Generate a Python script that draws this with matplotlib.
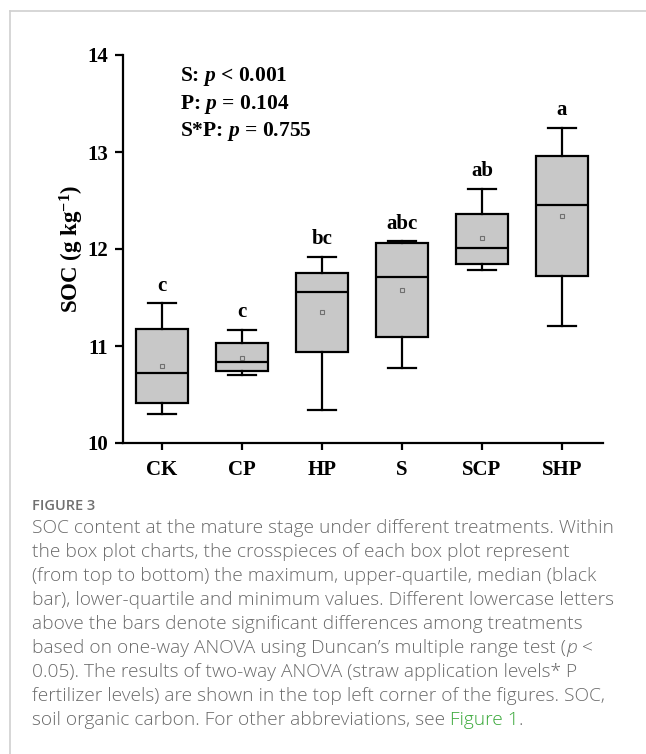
import matplotlib
matplotlib.use("Agg")
import matplotlib.pyplot as plt
from matplotlib.lines import Line2D

# ---------------- data ----------------
categories = ["CK", "CP", "HP", "S", "SCP", "SHP"]
whisker_low = [10.30, 10.70, 10.34, 10.77, 11.78, 11.21]
q1 = [10.41, 10.74, 10.94, 11.09, 11.85, 11.72]
median = [10.72, 10.83, 11.56, 11.71, 12.01, 12.45]
q3 = [11.18, 11.03, 11.75, 12.06, 12.36, 12.96]
whisker_high = [11.44, 11.17, 11.92, 12.08, 12.62, 13.25]
means = [10.79, 10.88, 11.35, 11.58, 12.11, 12.34]
letters = ["c", "c", "bc", "abc", "ab", "a"]
anova_lines = [r"S: $\mathit{p}$ < 0.001", r"P: $\mathit{p}$ = 0.104", r"S*P: $\mathit{p}$ = 0.755"]
y_ticks = [10, 11, 12, 13, 14]

caption_title = "FIGURE 3"
caption_lines = [
    [("SOC content at the mature stage under different treatments. Within", "n")],
    [("the box plot charts, the crosspieces of each box plot represent", "n")],
    [("(from top to bottom) the maximum, upper-quartile, median (black", "n")],
    [("bar), lower-quartile and minimum values. Different lowercase letters", "n")],
    [("above the bars denote significant differences among treatments", "n")],
    [("based on one-way ANOVA using Duncan\u2019s multiple range test (", "n"), ("p", "i"), (" <", "n")],
    [("0.05). The results of two-way ANOVA (straw application levels* P", "n")],
    [("fertilizer levels) are shown in the top left corner of the figures. SOC,", "n")],
    [("soil organic carbon. For other abbreviations, see ", "n"), ("Figure 1", "g"), (".", "n")],
]

# ---------------- style ----------------
plt.rcParams["mathtext.fontset"] = "custom"
plt.rcParams["mathtext.rm"] = "Liberation Serif:bold"
plt.rcParams["mathtext.bf"] = "Liberation Serif:bold"
plt.rcParams["mathtext.it"] = "Liberation Serif:italic:bold"
plt.rcParams["mathtext.default"] = "rm"

W, H = 646, 754
fig = plt.figure(figsize=(W / 100, H / 100), dpi=100)
fig.patch.set_facecolor("white")

ax = fig.add_axes([123 / W, (H - 443) / H, (603 - 123) / W, (443 - 55) / H])

stats = []
for i, c in enumerate(categories):
    stats.append(dict(label=c, med=median[i], q1=q1[i], q3=q3[i],
                      whislo=whisker_low[i], whishi=whisker_high[i],
                      mean=means[i], fliers=[]))

positions = list(range(len(categories)))
lw = 1.6
ax.bxp(stats, positions=positions, widths=0.64, capwidths=0.34,
       patch_artist=True, showmeans=True, showfliers=False,
       boxprops=dict(facecolor="#c8c8c8", edgecolor="black", linewidth=lw),
       medianprops=dict(color="black", linewidth=lw),
       whiskerprops=dict(color="black", linewidth=lw),
       capprops=dict(color="black", linewidth=lw),
       meanprops=dict(marker="s", markerfacecolor="#c8c8c8",
                      markeredgecolor="#707070", markersize=3.5,
                      markeredgewidth=0.8))

serif = "Liberation Serif"
for i, l in enumerate(letters):
    ax.text(positions[i], whisker_high[i] + 0.13, l, ha="center", va="baseline",
            fontsize=15, fontweight="bold", family=serif)

for k, line in enumerate(anova_lines):
    ax.text(0.225, 13.73 - 0.285 * k, line, ha="left", va="baseline",
            fontsize=15.5, fontweight="bold", family=serif)

ax.set_xlim(-0.4875, 5.5125)
ax.set_ylim(10, 14)
ax.set_yticks(y_ticks)
ax.set_xticks(positions)
ax.set_xticklabels(categories)
for lab in ax.get_xticklabels() + ax.get_yticklabels():
    lab.set_fontfamily(serif)
    lab.set_fontweight("bold")
    lab.set_fontsize(15)
ax.tick_params(axis="y", direction="out", length=6, width=lw, pad=4.5)
ax.tick_params(axis="x", direction="out", length=5, width=lw, pad=7)
ax.spines["top"].set_visible(False)
ax.spines["right"].set_visible(False)
ax.spines["left"].set_linewidth(lw)
ax.spines["bottom"].set_linewidth(lw)
ax.set_ylabel(r"SOC (g kg$^{-1}$)", fontsize=16.5, fontweight="bold",
              family=serif, labelpad=1)

# frame lines of the page
fig.add_artist(Line2D([10 / W, 1], [1 - 11 / H, 1 - 11 / H], transform=fig.transFigure,
                      color="#d0d0d0", linewidth=1.2))
fig.add_artist(Line2D([10 / W, 10 / W], [0, 1 - 11 / H], transform=fig.transFigure,
                      color="#d0d0d0", linewidth=1.2))

# caption
cap_font = "Open Sans"
cap_color = "#6a6a6a"
fig.text(32 / W, 1 - 506 / H, caption_title, fontsize=10.5, fontweight="semibold",
         color="#707070", family=cap_font, va="center", ha="left")

renderer = fig.canvas.get_renderer()
fs = 13.8
for k, pieces in enumerate(caption_lines):
    y = 1 - (528 + 24 * k) / H
    x_px = 32
    for txt, kind in pieces:
        style = "italic" if kind == "i" else "normal"
        color = "#3aa83a" if kind == "g" else cap_color
        t = fig.text(x_px / W, y, txt, fontsize=fs, fontweight="light",
                     style=style, color=color, family=cap_font,
                     va="center", ha="left")
        bb = t.get_window_extent(renderer=renderer)
        x_px += bb.width

fig.savefig("out.png", dpi=100)
